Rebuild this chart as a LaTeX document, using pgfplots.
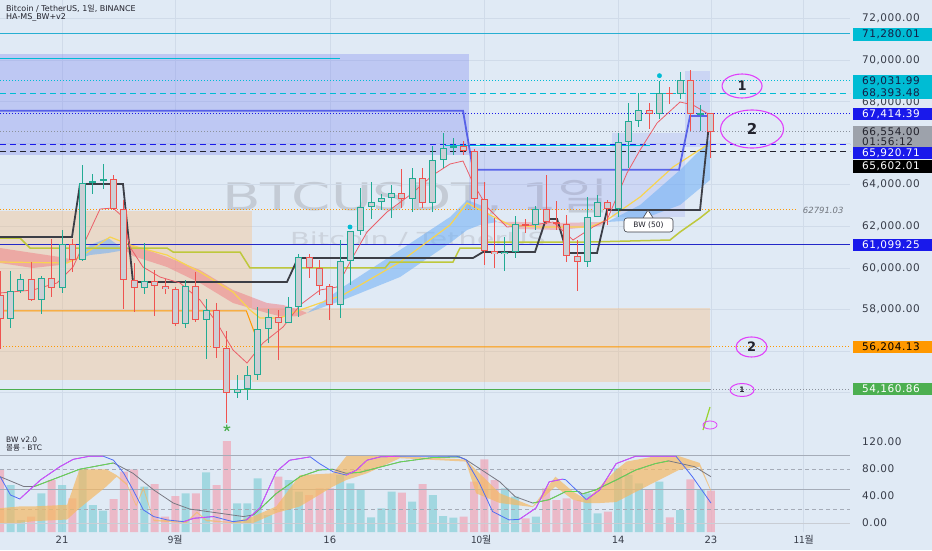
\documentclass[border=0pt]{standalone}
\usepackage{fontspec}
\setmainfont{DejaVu Sans}
\newfontfamily\kr{Noto Sans CJK KR}
\newfontfamily\lblfam[LetterSpace=5]{DejaVu Sans}
\usepackage{graphicx}
\usepackage{pgfplots}
\pgfplotsset{compat=1.18}
\usepackage{pgfplotstable}

\definecolor{bgc}{RGB}{224,234,245}
\definecolor{gridc}{RGB}{208,219,233}
\definecolor{upc}{RGB}{34,171,148}
\definecolor{dnc}{RGB}{239,83,80}
\definecolor{bodyc}{RGB}{204,207,213}
\definecolor{cyanl}{RGB}{0,188,212}
\definecolor{cyantop}{RGB}{40,175,210}
\definecolor{bluel}{RGB}{25,25,235}
\definecolor{navyl}{RGB}{35,40,200}
\definecolor{greyl}{RGB}{140,146,156}
\definecolor{blackl}{RGB}{35,35,45}
\definecolor{orangel}{RGB}{255,152,0}
\definecolor{greenl}{RGB}{76,175,80}
\definecolor{olivel}{RGB}{190,200,60}
\definecolor{yell}{RGB}{248,212,80}
\definecolor{thinred}{RGB}{235,95,105}
\definecolor{lav}{RGB}{120,130,240}
\definecolor{tanc}{RGB}{255,180,100}
\definecolor{ribred}{RGB}{240,130,135}
\definecolor{ribblue}{RGB}{110,175,245}
\definecolor{magc}{RGB}{224,64,251}
\definecolor{tickc}{RGB}{55,60,72}
\definecolor{wmc}{RGB}{196,203,213}
\definecolor{wmc2}{RGB}{204,211,221}
\definecolor{volpink}{RGB}{240,165,182}
\definecolor{volteal}{RGB}{135,208,216}
\definecolor{bandc}{RGB}{245,185,100}
\definecolor{oscblue}{RGB}{80,110,245}
\definecolor{oscmag}{RGB}{225,70,245}
\definecolor{oscgreen}{RGB}{100,220,80}
\definecolor{oscgrey}{RGB}{120,120,130}
\definecolor{osclev}{RGB}{165,172,184}
\definecolor{cyantext}{RGB}{20,30,70}
\definecolor{bwline}{RGB}{60,62,70}
\definecolor{thickblue}{RGB}{70,80,230}

\newcommand\lblfont{\lblfam\fontsize{10.5}{11}\selectfont}

% up candles: day index (0 = 21 Aug), open, high, low, close, volume (panel px)
\pgfplotstableread{
d o h l c v
-5 57550 59850 57100 58870 47
-4 58870 59700 58780 59480 12
-2 58440 59620 57800 59490 38.7
0 59010 61800 58790 61160 47
2 60380 64950 60350 64090 62.7
3 64090 64500 63560 64180 27
4 64180 65000 63800 64250 21.3
8 59030 61190 58750 59370 45.3
12 57300 59400 57120 59130 38.7
14 57480 58520 55600 57970 59.7
17 53960 54850 53740 54160 28.7
18 54160 55300 53650 54870 28.7
19 54870 58100 54590 57040 53.7
20 57040 58040 56400 57650 17
22 57340 58600 57330 58130 52
23 58130 60670 57630 60500 40.3
27 58210 61340 57610 60310 57
28 60310 61790 59170 61760 48.7
29 61760 63850 61560 62950 43
30 62950 64130 62350 63190 14.7
31 63190 63560 62760 63350 23.7
32 63350 64000 62380 63580 40.3
34 63330 64820 62700 64300 30.3
36 63140 65840 62670 65180 37
37 65180 66500 64800 65770 16
38 65770 66260 65420 65860 14.3
43 60650 61470 59830 60750 43.7
44 60750 62480 60460 62090 35.3
46 62060 62980 61800 62820 15.3
51 60270 63420 60050 62450 38.7
52 62450 63480 62450 63190 18.7
54 62850 66500 62450 66050 63.7
55 66050 67950 64800 67040 57
56 67040 68420 66750 67610 48.7
58 67400 68970 67180 68420 50.3
60 68360 69400 68100 69030 22
62 67380 67840 66570 67430 42
}\upT

\pgfplotstableread{
d o h l c v
-6 58700 59850 56100 57550 62.7
-3 59480 60270 58400 58440 15.3
-1 59490 61400 58600 59010 52
1 61160 61400 59800 60380 33.7
5 64250 64480 62800 62830 33
6 62830 63250 58030 59420 60.3
7 59420 60230 57860 59030 62.7
9 59370 59900 57700 59120 48
10 59120 59450 58750 58970 15.3
11 58970 59060 57200 57300 36
13 59130 59800 57400 57480 38.7
15 57970 58300 55650 56160 47
16 56160 56980 52550 53960 91
21 57650 57990 55550 57340 55.3
24 60500 60650 59510 60000 37
25 60000 60390 58700 59130 43.7
26 59130 59210 57490 58210 43.7
33 63580 64750 62890 63330 39.3
35 64300 64820 62900 63140 48
39 65860 66080 65420 65600 15.3
40 65600 65700 62860 63300 50.3
41 63300 64130 60160 60800 72.7
42 60800 62390 59980 60650 52
45 62090 62370 61680 62060 13.7
47 62820 64480 62130 62220 43.7
48 62220 63200 61830 62130 32
49 62130 62540 60300 60580 33.7
50 60580 61320 58900 60270 32
53 63190 63280 62060 62850 20.3
57 67610 67940 66660 67400 42
59 68420 68690 67900 68360 14.7
61 69030 69500 66570 67380 52.7
63 67430 67450 65260 66554 41.3
}\dnT

\newcommand\candles[2]{%
  \addplot[draw=none, mark=none, error bars/.cd, y dir=both, y explicit, error mark=none,
    error bar style={line width=1pt, draw=#2, solid}]
    table[x=d, y expr={(\thisrow{h}+\thisrow{l})/2}, y error expr={(\thisrow{h}-\thisrow{l})/2}] {#1};
  \addplot[draw=none, mark=none, error bars/.cd, y dir=both, y explicit, error mark=none,
    error bar style={line width=7pt, draw=#2, solid}]
    table[x=d, y expr={(\thisrow{o}+\thisrow{c})/2}, y error expr={max(abs(\thisrow{c}-\thisrow{o})/2,30)}] {#1};
  \addplot[draw=none, mark=none, error bars/.cd, y dir=both, y explicit, error mark=none,
    error bar style={line width=5pt, draw=bodyc, solid}]
    table[x=d, y expr={(\thisrow{o}+\thisrow{c})/2}, y error expr={max(abs(\thisrow{c}-\thisrow{o})/2-48,0)}] {#1};
}

\tikzset{
  plab/.style={anchor=west, xshift=3pt, minimum height=12.5pt, inner xsep=0pt, inner ysep=0pt, text width=79pt, align=left, font=\lblfont},
  tlab/.style={anchor=west, xshift=12pt, inner sep=0pt, font=\lblfont, text=tickc},
  dotl/.style={dash pattern=on 1pt off 2pt},
  dashl/.style={dash pattern=on 6pt off 4pt}
}
\pgfplotsset{noaxis/.style={axis line style={draw=none}, xtick=\empty, ytick=\empty, clip=false}}

\begin{document}
\begin{tikzpicture}
\fill[bgc] (0,0) rectangle (932pt,550pt);
% watermark
\node[anchor=base west, inner sep=0pt, text=wmc, font=\fontsize{38}{40}\selectfont] at (222pt,340pt) {\scalebox{1.48}[1]{BTCUSDT, 1{\kr 일}}};
\node[anchor=base west, inner sep=0pt, text=wmc2, font=\fontsize{18}{20}\selectfont] at (290pt,305pt) {\scalebox{1.6}[1]{Bitcoin / TetherUS}};

% ---------------- volume (lower panel, behind) ----------------
\begin{axis}[at={(0pt,18pt)}, anchor=south west, width=850pt, height=100pt, scale only axis,
  xmin=-6.02, xmax=76.5, ymin=0, ymax=100, noaxis]
\addplot[gridc, line width=0.6pt, unbounded coords=jump] coordinates {(0,0) (0,100) (nan,nan) (11,0) (11,100) (nan,nan) (26,0) (26,100) (nan,nan) (41,0) (41,100) (nan,nan) (54,0) (54,100) (nan,nan) (63,0) (63,100) (nan,nan) (72,0) (72,100)};
\addplot[ybar, bar width=8pt, bar shift=0pt, fill=volpink, fill opacity=0.7, draw=none] table[x=d,y=v]{\dnT};
\addplot[ybar, bar width=8pt, bar shift=0pt, fill=volteal, fill opacity=0.7, draw=none] table[x=d,y=v]{\upT};
\end{axis}

% ---------------- oscillator ----------------
\begin{axis}[at={(0pt,18pt)}, anchor=south west, width=850pt, height=100pt, scale only axis,
  xmin=-6.02, xmax=76.5, ymin=-13.3, ymax=134.8, noaxis]
\addplot[osclev, line width=0.6pt] coordinates {(-6.02,100) (76.5,100)};
\addplot[osclev, line width=0.6pt, dash pattern=on 4pt off 3pt] coordinates {(-6.02,80) (76.5,80)};
\addplot[osclev, line width=0.6pt] coordinates {(-6.02,50) (76.5,50)};
\addplot[osclev, line width=0.6pt, dash pattern=on 4pt off 3pt] coordinates {(-6.02,20) (76.5,20)};
\addplot[osclev!60, line width=0.5pt] coordinates {(-6.02,0) (76.5,0)};
% orange band
\addplot[fill=bandc, fill opacity=0.7, draw=none] coordinates {
(-6,22) (-4.1,24.6) (-2.8,24.6) (0.5,27) (1.7,79.6) (4.3,79.6) (5.3,71) (6.3,58.6) (7.2,27) (7.9,54) (8.9,5) (12.1,2.7) (13.1,17) (14,5) (16.6,1) (18.6,10) (20.8,24.6) (23.1,71) (26.3,73.6) (27.6,99) (29.6,99) (32.8,99) (39.2,94) (40.2,78.6) (42.5,44) (45.7,24.6) (47.9,68.6) (49.6,46.6) (50.9,34.6) (52.2,54) (53.8,78.6) (54.8,91) (57.3,98) (59.9,99) (61.9,89) (63,49)
(63,46.6) (61.9,83.5) (59.9,78.6) (57.3,58.6) (54.8,39) (53.8,31) (52.2,29.6) (50.9,29.6) (49.6,34.6) (47.9,54) (45.7,23.6) (42.5,29.6) (40.2,44) (39.2,91) (32.8,96) (29.6,73.6) (27.6,63.7) (26.3,54) (23.1,24.6) (20.8,15) (18.6,0.2) (16.6,0) (14,2.7) (13.1,14.8) (12.1,0.2) (8.9,2.7) (7.9,49) (7.2,24.6) (6.3,56) (5.3,68.6) (4.3,54) (1.7,22) (0.5,5.2) (-2.8,2.7) (-4.1,0.2) (-6,0.2)} -- cycle;
% signal line (grey, green rising)
\addplot[oscgrey, line width=0.8pt] coordinates {
(-6,68.6) (-3.7,54) (-2.7,54) (1.7,79.6) (5,89) (6.9,73.6) (8.9,49) (10.8,29.6) (12.4,20.7) (14.7,15.8) (17.6,9.6) (18.6,12) (20.8,43.7) (23.1,68.6) (25,78.6) (26.3,79.6) (27.6,73.6) (28.9,75) (32.8,90.4) (36,97) (38.6,98) (39.2,94) (42.5,61) (44,39) (45.7,29.6) (47.3,34.6) (48.9,46.6) (50.2,46.6) (50.5,43) (51.8,49) (53.8,63.7) (55.7,78.6) (57.6,88) (58.9,92) (61.4,83.5) (63,68.6)};
\addplot[oscgreen, line width=0.8pt, unbounded coords=jump] coordinates {
(-2.7,54) (1.7,79.6) (5,89) (nan,nan)
(18.6,12) (20.8,43.7) (23.1,68.6) (25,78.6) (26.3,79.6) (nan,nan)
(27.6,73.6) (28.9,75) (32.8,90.4) (36,97) (38.6,98) (nan,nan)
(45.7,29.6) (47.3,34.6) (48.9,46.6) (50.2,46.6) (nan,nan)
(50.5,43) (51.8,49) (53.8,63.7) (55.7,78.6) (57.6,88) (58.9,92)};
% main line (blue, magenta rising)
\addplot[oscblue, line width=0.8pt] coordinates {
(-6,68.6) (-5,41.5) (-4.1,35.6) (-2.1,63.7) (-0.2,83.5) (1.1,94.4) (2.7,99) (4,99) (5,93) (6,73.6) (6.9,49) (7.9,19.4) (8.9,9.6) (10.2,4.6) (11.8,2) (12.8,7) (14.7,9.6) (16.6,2) (17.9,4.6) (19.2,22) (20.8,76) (22.1,93) (24.1,98) (25,88) (26.3,76) (27.6,71) (28.6,78.6) (29.6,93) (30.9,98) (32.8,99) (38.3,99) (39.2,94) (40.5,60) (41.8,17) (43.4,4.6) (44.4,5.5) (46,22) (47.3,61) (48.6,65) (48.9,64) (50.9,34.6) (52.2,49) (53.8,88) (55.7,99) (59.6,99) (61.2,68.6) (63,29.6)};
\addplot[oscmag, line width=0.8pt, unbounded coords=jump] coordinates {
(-4.1,35.6) (-2.1,63.7) (-0.2,83.5) (1.1,94.4) (2.7,99) (4,99) (nan,nan)
(11.8,2) (12.8,7) (14.7,9.6) (nan,nan)
(17.9,4.6) (19.2,22) (20.8,76) (22.1,93) (24.1,98) (nan,nan)
(27.6,71) (28.6,78.6) (29.6,93) (30.9,98) (32.8,99) (nan,nan)
(44.4,5.5) (46,22) (47.3,61) (48.6,65) (nan,nan)
(50.9,34.6) (52.2,49) (53.8,88) (55.7,99) (59.6,99)};
% right scale labels
\node[tlab] at (axis cs:76.5,120) {120.00};
\node[tlab] at (axis cs:76.5,80) {80.00};
\node[tlab] at (axis cs:76.5,40) {40.00};
\node[tlab] at (axis cs:76.5,0) {0.00};
% date labels
\tikzset{dl/.style={font=\fontsize{10}{12}\selectfont, text=tickc, inner sep=0pt, yshift=-8pt}}
\node[dl] at (axis cs:0,-13.3) {21};
\node[dl] at (axis cs:11,-13.3) {\kr 9월};
\node[dl] at (axis cs:26,-13.3) {16};
\node[dl] at (axis cs:40.7,-13.3) {\kr 10월};
\node[dl] at (axis cs:54,-13.3) {14};
\node[dl] at (axis cs:63,-13.3) {23};
\node[dl] at (axis cs:72,-13.3) {\kr 11월};
\end{axis}

% ---------------- main price panel ----------------
\begin{axis}[at={(0pt,118pt)}, anchor=south west, width=850pt, height=432pt, scale only axis,
  xmin=-6.02, xmax=76.5, ymin=52105, ymax=72880, noaxis]
% grid
\addplot[gridc, line width=0.6pt, unbounded coords=jump] coordinates {(0,52105) (0,72880) (nan,nan) (11,52105) (11,72880) (nan,nan) (26,52105) (26,72880) (nan,nan) (41,52105) (41,72880) (nan,nan) (54,52105) (54,72880) (nan,nan) (63,52105) (63,72880) (nan,nan) (72,52105) (72,72880)};
\addplot[gridc, line width=0.6pt, unbounded coords=jump] coordinates {(-6.02,72000) (76.5,72000) (nan,nan) (-6.02,70000) (76.5,70000) (nan,nan) (-6.02,68000) (76.5,68000) (nan,nan) (-6.02,66000) (76.5,66000) (nan,nan) (-6.02,64000) (76.5,64000) (nan,nan) (-6.02,62000) (76.5,62000) (nan,nan) (-6.02,60000) (76.5,60000) (nan,nan) (-6.02,58000) (76.5,58000) (nan,nan) (-6.02,56000) (76.5,56000) (nan,nan) (-6.02,54000) (76.5,54000)};
% zones
\addplot[fill=tanc, fill opacity=0.3, draw=none] coordinates {(-6.02,54605) (18.45,54605) (18.45,62730) (-6.02,62730)} -- cycle;
\addplot[fill=tanc, fill opacity=0.3, draw=none] coordinates {(18.45,54510) (62.91,54510) (62.91,58060) (18.45,58060)} -- cycle;
\addplot[fill=lav, fill opacity=0.32, draw=none] coordinates {(-6.02,65426) (39.51,65426) (39.51,70283) (-6.02,70283)} -- cycle;
\addplot[fill=lav, fill opacity=0.18, draw=none] coordinates {(39.51,62781) (53.40,62781) (53.40,65811) (39.51,65811)} -- cycle;
\addplot[fill=lav, fill opacity=0.18, draw=none] coordinates {(53.40,62445) (60.49,62445) (60.49,66484) (53.40,66484)} -- cycle;
\addplot[fill=lav, fill opacity=0.2, draw=none] coordinates {(60.49,65811) (62.91,65811) (62.91,69466) (60.49,69466)} -- cycle;
% EMA ribbon
\addplot[fill=ribred, fill opacity=0.55, draw=none] coordinates {(-6.02,60953) (-2.82,60713) (-0.19,60521) (1.26,60376) (-0.19,60136) (-2.82,59992) (-6.02,60232)} -- cycle;
\addplot[fill=ribblue, fill opacity=0.55, draw=none] coordinates {(1.26,60376) (2.72,61098) (4.47,61435) (6.12,60857) (4.47,60713) (2.72,60617)} -- cycle;
\addplot[fill=ribred, fill opacity=0.55, draw=none] coordinates {(6.12,60857) (6.89,61098) (10.19,60521) (13.40,59896) (16.60,58934) (19.90,58309) (21.46,58213) (23.11,57972) (23.79,57828) (23.11,57684) (21.46,57636) (19.90,57828) (16.60,58309) (13.40,59271) (10.19,60040) (6.89,60569)} -- cycle;
\addplot[fill=ribblue, fill opacity=0.55, draw=none] coordinates {(23.79,57828) (27.28,59078) (32.82,60857) (37.67,62445) (39.32,63262) (40.58,63022) (42.23,62204) (40.58,62060) (39.32,61819) (37.67,61194) (32.82,59559) (27.28,58453)} -- cycle;
\addplot[fill=ribred, fill opacity=0.45, draw=none] coordinates {(42.23,62204) (44.47,62204) (48.35,62156) (52.23,62204) (52.91,62204) (52.23,62012) (48.35,61819) (44.47,61867)} -- cycle;
\addplot[fill=ribblue, fill opacity=0.55, draw=none] coordinates {(52.91,62204) (56.12,63022) (60.00,64705) (62.91,66148) (62.91,64224) (60.00,63022) (56.12,62300)} -- cycle;
% levels
\addplot[cyantop, line width=1.2pt] coordinates {(-6.02,71280.01) (76.5,71280.01)};
\addplot[cyanl, line width=1pt] coordinates {(-6.02,70070) (27.0,70070)};
\addplot[cyanl, line width=0.9pt, dotl] coordinates {(-6.02,69031.99) (76.5,69031.99)};
\addplot[cyanl, line width=0.9pt, dashl] coordinates {(-6.02,68393.48) (76.5,68393.48)};
\addplot[bluel, line width=0.9pt, dotl] coordinates {(-6.02,67414.39) (76.5,67414.39)};
\addplot[greyl, line width=0.8pt, dotl] coordinates {(-6.02,66554) (76.5,66554)};
\addplot[bluel, line width=0.9pt, dashl] coordinates {(-6.02,65920.71) (76.5,65920.71)};
\addplot[blackl, line width=0.9pt, dashl] coordinates {(-6.02,65602.01) (76.5,65602.01)};
\addplot[cyanl, line width=1pt] coordinates {(37.2,65900) (57.1,65900)};
\addplot[orangel, line width=0.8pt, dotl] coordinates {(-6.02,62791.03) (71.2,62791.03)};
\addplot[navyl, line width=1pt] coordinates {(-6.02,61099.25) (76.5,61099.25)};
\addplot[orangel, line width=1pt] coordinates {(-6.02,57924) (17.9,57924) (19.2,56204.13) (62.91,56204.13)};
\addplot[orangel, line width=0.8pt, dotl] coordinates {(-6.02,56204.13) (19.2,56204.13)};
\addplot[orangel, line width=0.8pt, dotl] coordinates {(62.91,56204.13) (76.5,56204.13)};
\addplot[greenl, line width=1pt] coordinates {(-6.02,54160.86) (62.91,54160.86)};
\addplot[greyl, line width=0.8pt, dotl] coordinates {(62.91,54160.86) (76.5,54160.86)};
% indicator lines
\addplot[yell, line width=1.2pt] coordinates {(-6.02,60280) (0.49,60232) (1.75,60521) (4.66,61483) (6.89,61050) (10.19,60617) (13.40,59799) (16.60,58838) (18.25,57972) (19.22,57588) (21.17,57588) (23.11,57972) (27.28,58694) (32.82,60280) (37.67,62060) (39.32,63118) (41.55,62541) (43.50,62060) (46.41,61963) (51.26,61963) (52.91,62300) (56.12,63406) (59.32,64849) (62.62,65907)};
\addplot[olivel, line width=1.5pt] coordinates {(-6.02,61434) (-4.08,61434) (-3.11,60953) (10.19,60953) (10.78,60761) (17.28,60761) (18.25,59992) (31.36,59992) (31.84,60280) (37.96,60280) (38.64,60953) (40.87,60953) (41.26,61242) (51.26,61242) (59.03,61338) (60.00,61723) (61.94,62396) (62.91,62781)};
\addplot[thickblue, line width=1.8pt, opacity=0.85] coordinates {(-6.02,67550) (38.93,67550) (39.90,64720) (59.90,64720) (60.97,67300) (62.91,67300)};
\addplot[bwline, line width=1.8pt] coordinates {(-6.02,61483) (0.97,61483) (1.75,64032) (5.92,64032) (6.89,59319) (21.84,59319) (22.91,60473) (39.90,60473) (40.87,60761) (45.92,60761) (46.99,62350) (48.06,62350) (49.03,60713) (51.94,60713) (52.91,62781) (61.94,62781) (62.91,67400)};
\addplot[thinred, line width=0.8pt] coordinates {(-6.02,58790) (-2.82,58934) (-0.49,59271) (1.07,60040) (2.43,61483) (3.69,62829) (4.95,62877) (5.92,62445) (6.60,61002) (7.86,60040) (9.51,59559) (11.46,59271) (13.40,58453) (15.05,57347) (16.60,56049) (17.96,55423) (19.51,56385) (21.46,57155) (23.11,58213) (25.05,58934) (26.70,59078) (27.96,60280) (29.61,61723) (31.55,62685) (33.79,63502) (36.02,64464) (37.67,64993) (38.93,65137) (39.90,64079) (41.26,62925) (43.20,61963) (45.73,62060) (47.67,62204) (49.61,61338) (51.55,61963) (52.91,62300) (54.85,64560) (56.12,65667) (57.77,66965) (60.00,67975) (61.26,67830) (62.91,67350)};
\addplot[olivel!80!green, line width=1.2pt] coordinates {(62.91,53310) (62.23,52200)};
% candles
\candles{\upT}{upc}
\candles{\dnT}{dnc}
% markers
\addplot[only marks, mark=*, mark size=2.2pt, cyanl] coordinates {(27.96,61963) (58,69240)};
\addplot[only marks, mark=star, mark size=3.5pt, greenl, line width=1.2pt] coordinates {(16,52297)};
% BW (50) callout
\draw[bwline, fill=white, line width=0.6pt] (axis cs:56.41,62397) -- (axis cs:56.89,62781) -- (axis cs:57.38,62397);
\node[draw=bwline, fill=white, line width=0.6pt, rounded corners=3pt, inner sep=1pt, minimum width=49pt, minimum height=14pt, font=\fontsize{7.5}{8}\selectfont, text=blackl] at (axis cs:56.94,62060) {BW (50)};
\node[anchor=center, font=\itshape\fontsize{8.5}{9}\selectfont, text=greyl!80!black, inner sep=0pt] at (axis cs:73.9,62781) {62791.03};
% annotations
\draw[magc, line width=1.1pt] (axis cs:66.02,68744) ellipse [x radius=20pt, y radius=12pt];
\node[font=\bfseries\fontsize{13}{14}\selectfont, text=blackl] at (axis cs:66.02,68744) {1};
\draw[magc, line width=1.1pt] (axis cs:66.99,66676) ellipse [x radius=31.5pt, y radius=19pt];
\node[font=\bfseries\fontsize{15}{16}\selectfont, text=blackl] at (axis cs:66.99,66676) {2};
\draw[magc, line width=1.1pt] (axis cs:66.94,56193) ellipse [x radius=15.5pt, y radius=10pt];
\node[font=\bfseries\fontsize{13}{14}\selectfont, text=blackl] at (axis cs:66.94,56193) {2};
\draw[magc, line width=1pt] (axis cs:66.02,54125) ellipse [x radius=12pt, y radius=6.5pt];
\node[font=\bfseries\fontsize{7.5}{8}\selectfont, text=blackl] at (axis cs:66.02,54125) {1};
\draw[magc, line width=0.8pt] (axis cs:62.91,52442) ellipse [x radius=7pt, y radius=4pt];
% price scale ticks
\node[tlab] at (axis cs:76.5,72000) {72,000.00};
\node[tlab] at (axis cs:76.5,70000) {70,000.00};
\node[tlab] at (axis cs:76.5,67950) {68,000.00};
\node[tlab] at (axis cs:76.5,64000) {64,000.00};
\node[tlab] at (axis cs:76.5,62000) {62,000.00};
\node[tlab] at (axis cs:76.5,60000) {60,000.00};
\node[tlab] at (axis cs:76.5,58000) {58,000.00};
% price scale labels
\node[plab, fill=cyanl, text=cyantext] at (axis cs:76.5,71230) {\hspace*{9pt}71,280.01};
\node[plab, fill=cyanl, text=cyantext] at (axis cs:76.5,68985) {\hspace*{9pt}69,031.99};
\node[plab, fill=cyanl, text=cyantext] at (axis cs:76.5,68408) {\hspace*{9pt}68,393.48};
\node[plab, fill=bluel, text=white] at (axis cs:76.5,67398) {\hspace*{9pt}67,414.39};
\node[plab, anchor=north west, minimum height=21pt, fill=greyl!85!white, text=blackl, font=\lblfam\fontsize{10.5}{9.5}\selectfont] at (axis cs:76.5,66821) {\hspace*{9pt}66,554.00\\\hspace*{9pt}01:56:12};
\node[plab, fill=bluel, text=white] at (axis cs:76.5,65522) {\hspace*{9pt}65,920.71};
\node[plab, fill=black, text=white] at (axis cs:76.5,64873) {\hspace*{9pt}65,602.01};
\node[plab, fill=bluel, text=white] at (axis cs:76.5,61098) {\hspace*{9pt}61,099.25};
\node[plab, fill=orangel, text=black] at (axis cs:76.5,56193) {\hspace*{9pt}56,204.13};
\node[plab, fill=greenl, text=white] at (axis cs:76.5,54173) {\hspace*{9pt}54,160.86};
\end{axis}

% titles
\node[anchor=north west, inner sep=0pt, align=left, text=blackl, font=\fontsize{8}{8}\selectfont] at (6pt,545.5pt) {Bitcoin / TetherUS, 1{\kr 일}, BINANCE\\HA-MS\_BW+v2};
\node[anchor=north west, inner sep=0pt, align=left, text=blackl, font=\fontsize{7.5}{7.5}\selectfont] at (6pt,113pt) {BW v2.0\\{\kr 볼륨} - BTC};
\pgfresetboundingbox
\useasboundingbox (0,0) rectangle (932pt,550pt);
\end{tikzpicture}
\end{document}
